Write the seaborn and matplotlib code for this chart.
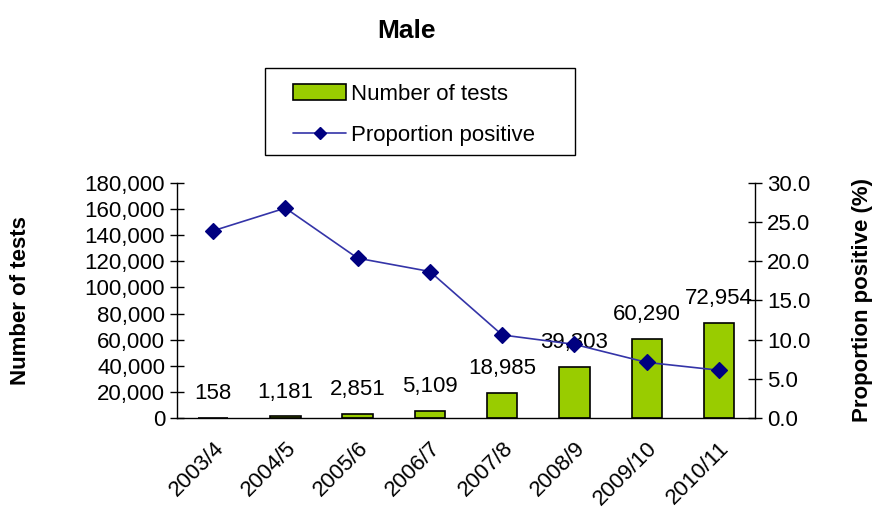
import numpy as np
import pandas as pd
import seaborn as sns
import matplotlib.pyplot as plt
import matplotlib.transforms as mtransforms
from matplotlib.patches import Patch, Rectangle
from matplotlib.lines import Line2D

# Data
years = ['2003/4', '2004/5', '2005/6', '2006/7', '2007/8', '2008/9', '2009/10', '2010/11']
tests = [158, 1181, 2851, 5109, 18985, 39303, 60290, 72954]
prop_positive = [23.9, 26.8, 20.4, 18.7, 10.6, 9.4, 7.1, 6.1]

df = pd.DataFrame({'year': years, 'tests': tests, 'prop': prop_positive})

sns.set_style('white')
plt.rcParams['font.family'] = ['Liberation Sans', 'DejaVu Sans']
for k in ('text.color', 'axes.labelcolor', 'xtick.color', 'ytick.color'):
    plt.rcParams[k] = 'black'

bar_green = '#99CC00'
line_blue = '#3434a8'
marker_navy = '#000080'
fs = 16
W, H = 879, 523

fig = plt.figure(figsize=(8.79, 5.23), dpi=100)
ax = fig.add_axes([0.2014, 0.2008, 0.6576, 0.4493])

# Bars (left axis)
sns.barplot(data=df, x='year', y='tests', ax=ax, color=bar_green,
            edgecolor='black', linewidth=1.2, width=0.42, saturation=1)
ax.bar_label(ax.containers[0], labels=[f'{v:,}' for v in tests],
             padding=10, fontsize=fs)
ax.set_ylim(0, 180000)
ax.set_yticks(np.arange(0, 180001, 20000))
ax.set_yticklabels([f'{v:,}' for v in range(0, 180001, 20000)], fontsize=fs)
ax.set_ylabel('Number of tests', fontsize=fs, fontweight='bold')
ax.yaxis.set_label_coords(-0.253, 0.5)
ax.set_xlabel('')

# Line (right axis)
ax2 = ax.twinx()
sns.pointplot(data=df, x='year', y='prop', ax=ax2, color=line_blue,
              markers='D', markersize=8, linewidth=1.2,
              markerfacecolor=marker_navy, markeredgecolor=marker_navy)
ax2.set_ylim(0, 30)
ax2.set_yticks(np.arange(0, 30.1, 5))
ax2.set_yticklabels([f'{v:.1f}' for v in np.arange(0, 30.1, 5)], fontsize=fs)
ax2.set_ylabel('Proportion positive (%)', fontsize=fs, fontweight='bold')
ax2.yaxis.set_label_coords(1.168, 0.5)
ax2.set_xlabel('')

# x axis: tick marks at category boundaries, labels at centres
ax.set_xlim(-0.5, len(years) - 0.5)
ax.set_xticks(np.arange(-0.5, len(years), 1.0))
ax.set_xticklabels([])
ax.set_xticks(np.arange(len(years)), minor=True)
ax.set_xticklabels(years, minor=True, rotation=45, ha='right',
                   rotation_mode='anchor', fontsize=fs)
shift = mtransforms.ScaledTranslation(-14 / 100, -4 / 100, fig.dpi_scale_trans)
for lbl in ax.get_xticklabels(minor=True):
    lbl.set_transform(lbl.get_transform() + shift)
ax.tick_params(axis='x', which='minor', length=0, pad=14)
ax.tick_params(axis='x', which='major', direction='inout', length=10, width=1)
ax.tick_params(axis='y', direction='inout', length=10, width=1, left=True)
ax2.tick_params(axis='y', direction='inout', length=10, width=1, right=True)

for a in (ax, ax2):
    a.spines['top'].set_visible(False)
    for s in ('left', 'right', 'bottom'):
        a.spines[s].set_color('black')
        a.spines[s].set_linewidth(1)
ax.spines['right'].set_visible(False)
ax2.spines['left'].set_visible(False)
ax2.spines['bottom'].set_visible(False)

fig.text(0.463, 0.94, 'Male', ha='center', va='center', fontsize=19, fontweight='bold')

# Legend: entries without frame, box drawn separately
handles = [Patch(facecolor=bar_green, edgecolor='black', linewidth=1.2),
           Line2D([0], [0], color=line_blue, lw=1.2, marker='D', markersize=6,
                  markerfacecolor=marker_navy, markeredgecolor=marker_navy)]
fig.legend(handles, ['Number of tests', 'Proportion positive'],
           loc='upper left', bbox_to_anchor=(293 / W, 1 - 84 / H), fontsize=fs,
           frameon=False, handlelength=2.4, handletextpad=0.2,
           borderpad=0, borderaxespad=0, labelspacing=0.9)
fig.patches.append(Rectangle((265 / W, 1 - 155 / H), 310 / W, 87 / H,
                             transform=fig.transFigure, fill=False,
                             edgecolor='black', linewidth=1))

fig.savefig('out.png', dpi=100)
